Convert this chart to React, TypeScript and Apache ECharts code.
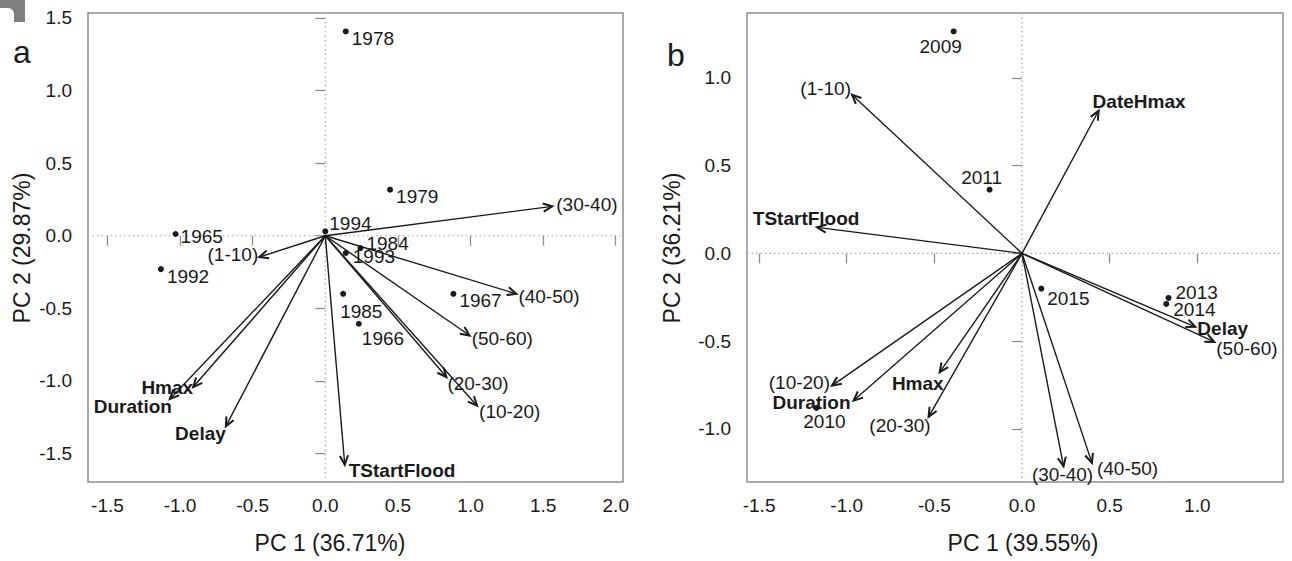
import React, { useEffect, useRef } from 'react';
import * as echarts from 'echarts';

const FONT = '"Liberation Sans", Arial, Helvetica, sans-serif';
const INK = '#1a1a1a';
const FRAME = '#8e8e8e';
const ZERO = '#a8a8a8';

// ---------- Panel a: flood years and variables ----------
const yearsA = ['1978', '1979', '1994', '1984', '1993', '1965', '1992', '1985', '1966', '1967'];
const yearsAPc1 = [0.141, 0.446, 0.0, 0.242, 0.141, -1.031, -1.132, 0.123, 0.231, 0.882];
const yearsAPc2 = [1.407, 0.317, 0.03, -0.085, -0.119, 0.012, -0.23, -0.4, -0.606, -0.4];

const varsA = ['(30-40)', '(1-10)', '(40-50)', '(50-60)', '(20-30)', '(10-20)', 'TStartFlood', 'Hmax', 'Duration', 'Delay'];
const varsAPc1 = [1.563, -0.455, 1.316, 0.994, 0.834, 1.045, 0.134, -0.91, -1.07, -0.685];
const varsAPc2 = [0.202, -0.147, -0.4, -0.687, -0.973, -1.171, -1.577, -1.042, -1.125, -1.313];

// ---------- Panel b: flood years and variables ----------
const yearsB = ['2009', '2011', '2015', '2013', '2014', '2010'];
const yearsBPc1 = [-0.39, -0.185, 0.11, 0.836, 0.823, -1.173];
const yearsBPc2 = [1.265, 0.363, -0.201, -0.254, -0.288, -0.881];

const varsB = ['(1-10)', 'DateHmax', 'TStartFlood', '(10-20)', 'Duration', 'Hmax', '(20-30)', '(30-40)', '(40-50)', 'Delay', '(50-60)'];
const varsBPc1 = [-0.97, 0.437, -1.169, -1.084, -0.961, -0.47, -0.533, 0.237, 0.399, 0.989, 1.097];
const varsBPc2 = [0.904, 0.813, 0.148, -0.754, -0.839, -0.678, -0.932, -1.214, -1.194, -0.419, -0.505];

// Axis tick values
const ticksAX = [-1.5, -1.0, -0.5, 0.0, 0.5, 1.0, 1.5, 2.0];
const ticksAY = [-1.5, -1.0, -0.5, 0.0, 0.5, 1.0, 1.5];
const ticksBX = [-1.5, -1.0, -0.5, 0.0, 0.5, 1.0];
const ticksBY = [-1.0, -0.5, 0.0, 0.5, 1.0];

const titleAX = 'PC 1 (36.71%)';
const titleAY = 'PC 2 (29.87%)';
const titleBX = 'PC 1 (39.55%)';
const titleBY = 'PC 2 (36.21%)';

const boldVars = new Set(['TStartFlood', 'Hmax', 'Duration', 'Delay', 'DateHmax']);

type Place = [string, number, number]; // text align, dx, dy (px from mark)

const yearPlaceA: Record<string, Place> = {
  '1978': ['left', 6, 7],
  '1979': ['left', 6, 7],
  '1994': ['left', 4, -8],
  '1984': ['left', 6, -5],
  '1993': ['left', 7, 3],
  '1965': ['left', 5, 3],
  '1992': ['left', 6, 7],
  '1985': ['left', -3, 18],
  '1966': ['left', 3, 15],
  '1967': ['left', 6, 7],
};
const varPlaceA: Record<string, Place> = {
  '(30-40)': ['left', 4, -2],
  '(1-10)': ['right', -1, -3],
  '(40-50)': ['left', 2, 3],
  '(50-60)': ['left', 2, 3],
  '(20-30)': ['left', 1, 6],
  '(10-20)': ['left', 2, 6],
  TStartFlood: ['left', 4, 6],
  Hmax: ['right', 0, 0],
  Duration: ['right', 2, 7],
  Delay: ['right', 0, 7],
};
const yearPlaceB: Record<string, Place> = {
  '2009': ['center', -13, 15],
  '2011': ['center', -8, -12],
  '2015': ['left', 6, 10],
  '2013': ['left', 7, -5],
  '2014': ['left', 7, 6],
  '2010': ['center', 8, 14],
};
const varPlaceB: Record<string, Place> = {
  '(1-10)': ['right', -1, -6],
  DateHmax: ['left', -6, -9],
  TStartFlood: ['center', -11, -9],
  '(10-20)': ['right', -2, -3],
  Duration: ['right', -3, 2],
  Hmax: ['right', 4, 11],
  '(20-30)': ['right', 2, 9],
  '(30-40)': ['center', -1, 8],
  '(40-50)': ['left', 5, 6],
  Delay: ['left', 2, 2],
  '(50-60)': ['left', 2, 7],
};

function axisPair(idx: number, xr: [number, number], yr: [number, number], tx: number[], ty: number[]) {
  const fmt = (v: number) => v.toFixed(1);
  const common = {
    gridIndex: idx,
    type: 'value' as const,
    axisLine: { show: false },
    splitLine: { show: false },
  };
  return {
    x: {
      ...common,
      min: xr[0],
      max: xr[1],
      axisTick: { show: true, customValues: tx, length: 10, lineStyle: { color: FRAME, width: 1.3 } },
      axisLabel: { show: true, customValues: tx, formatter: fmt, margin: 14, fontSize: 19, color: INK, fontFamily: FONT },
    },
    y: {
      ...common,
      min: yr[0],
      max: yr[1],
      axisTick: { show: true, customValues: ty, length: 10, lineStyle: { color: FRAME, width: 1.3 } },
      axisLabel: { show: true, customValues: ty, formatter: fmt, margin: 16, fontSize: 19, color: INK, fontFamily: FONT },
    },
  };
}

function zeroLines(idx: number) {
  return {
    type: 'custom',
    xAxisIndex: idx,
    yAxisIndex: idx,
    silent: true,
    clip: false,
    data: [[0, 0]],
    encode: { x: 0, y: 1 },
    renderItem: (params: any, api: any) => {
      const cs = params.coordSys;
      const [ox, oy] = api.coord([0, 0]);
      const st = { stroke: ZERO, lineWidth: 1.2, lineDash: [1.5, 3] };
      return {
        type: 'group',
        children: [
          { type: 'line', shape: { x1: ox, y1: cs.y, x2: ox, y2: cs.y + cs.height }, style: st },
          { type: 'line', shape: { x1: cs.x, y1: oy, x2: cs.x + cs.width, y2: oy }, style: st },
        ],
      };
    },
  };
}

function arrowSeries(idx: number, names: string[], xs: number[], ys: number[], place: Record<string, Place>) {
  return {
    type: 'custom',
    xAxisIndex: idx,
    yAxisIndex: idx,
    silent: true,
    clip: false,
    data: xs.map((x, i) => [x, ys[i]]),
    encode: { x: 0, y: 1 },
    renderItem: (params: any, api: any) => {
      const i = params.dataIndex;
      const name = names[i];
      const [ox, oy] = api.coord([0, 0]);
      const [tx, ty] = api.coord([api.value(0), api.value(1)]);
      const ang = Math.atan2(ty - oy, tx - ox);
      const L = 10;
      const s = 0.42;
      const p1 = [tx - L * Math.cos(ang - s), ty - L * Math.sin(ang - s)];
      const p2 = [tx - L * Math.cos(ang + s), ty - L * Math.sin(ang + s)];
      const [align, dx, dy] = place[name];
      return {
        type: 'group',
        children: [
          { type: 'line', shape: { x1: ox, y1: oy, x2: tx, y2: ty }, style: { stroke: INK, lineWidth: 1.4 } },
          { type: 'polyline', shape: { points: [p1, [tx, ty], p2] }, style: { stroke: INK, lineWidth: 2, fill: 'none' } },
          {
            type: 'text',
            x: tx + dx,
            y: ty + dy,
            style: {
              text: name,
              align,
              verticalAlign: 'middle',
              fill: INK,
              fontSize: 19,
              fontWeight: boldVars.has(name) ? 'bold' : 'normal',
              fontFamily: FONT,
            },
          },
        ],
      };
    },
  };
}

function pointSeries(idx: number, names: string[], xs: number[], ys: number[], place: Record<string, Place>) {
  return {
    type: 'custom',
    xAxisIndex: idx,
    yAxisIndex: idx,
    silent: true,
    clip: false,
    data: xs.map((x, i) => [x, ys[i]]),
    encode: { x: 0, y: 1 },
    renderItem: (params: any, api: any) => {
      const i = params.dataIndex;
      const name = names[i];
      const [px, py] = api.coord([api.value(0), api.value(1)]);
      const [align, dx, dy] = place[name];
      return {
        type: 'group',
        children: [
          { type: 'circle', shape: { cx: px, cy: py, r: 3 }, style: { fill: INK } },
          {
            type: 'text',
            x: px + dx,
            y: py + dy,
            style: { text: name, align, verticalAlign: 'middle', fill: INK, fontSize: 19, fontFamily: FONT },
          },
        ],
      };
    },
  };
}

function textEl(text: string, x: number, y: number, size: number, rotate = 0, align = 'center') {
  return {
    type: 'text',
    x,
    y,
    rotation: rotate,
    style: { text, fill: INK, fontSize: size, fontFamily: FONT, align, verticalAlign: 'middle' },
  };
}

export default function App() {
  const ref = useRef<HTMLDivElement>(null);

  useEffect(() => {
    if (!ref.current) return;
    const chart = echarts.init(ref.current, undefined, { renderer: 'svg' });
    const a = axisPair(0, [-1.634, 2.05], [-1.696, 1.534], ticksAX, ticksAY);
    const b = axisPair(1, [-1.569, 1.489], [-1.303, 1.37], ticksBX, ticksBY);

    chart.setOption({
      animation: false,
      backgroundColor: '#ffffff',
      grid: [
        { left: 88, top: 13, width: 535, height: 469, show: true, borderColor: FRAME, borderWidth: 1.5, backgroundColor: 'transparent' },
        { left: 747, top: 13, width: 536, height: 469, show: true, borderColor: FRAME, borderWidth: 1.5, backgroundColor: 'transparent' },
      ],
      xAxis: [a.x, b.x],
      yAxis: [a.y, b.y],
      series: [
        zeroLines(0),
        arrowSeries(0, varsA, varsAPc1, varsAPc2, varPlaceA),
        pointSeries(0, yearsA, yearsAPc1, yearsAPc2, yearPlaceA),
        zeroLines(1),
        arrowSeries(1, varsB, varsBPc1, varsBPc2, varPlaceB),
        pointSeries(1, yearsB, yearsBPc1, yearsBPc2, yearPlaceB),
      ],
      graphic: [
        // corner tab in the top-left
        { type: 'rect', shape: { x: 0, y: 0, width: 25, height: 22 }, style: { fill: '#7f7f7f' } },
        { type: 'rect', shape: { x: -20, y: 8, width: 34, height: 30, r: [0, 6, 0, 0] }, style: { fill: '#ffffff' } },
        textEl('a', 22, 52, 32),
        textEl('b', 676, 55, 32),
        textEl(titleAX, 330, 543, 23),
        textEl(titleBX, 1023, 543, 23),
        textEl(titleAY, 22, 248, 23, Math.PI / 2),
        textEl(titleBY, 672, 248, 23, Math.PI / 2),
      ],
    });

    return () => chart.dispose();
  }, []);

  return (
    <div
      ref={ref}
      style={{ position: 'absolute', left: 0, top: 0, width: 1292, height: 561, background: '#ffffff' }}
    />
  );
}
